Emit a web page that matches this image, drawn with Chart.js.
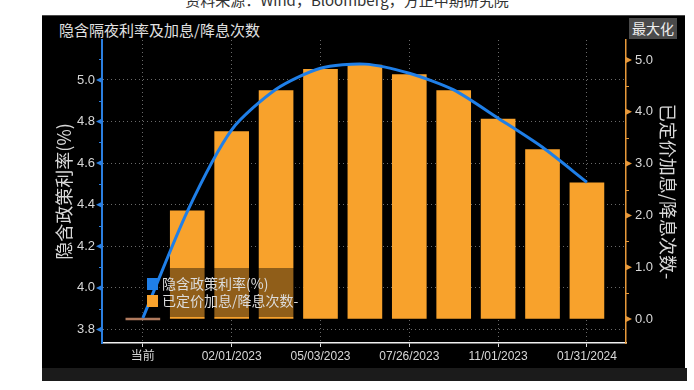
<!DOCTYPE html>
<html><head><meta charset="utf-8">
<script src="https://cdn.jsdelivr.net/npm/chart.js@4"></script>
<style>
html,body{margin:0;padding:0;background:#fff;width:694px;height:390px;overflow:hidden;position:relative;font-family:"Noto Sans CJK SC",sans-serif;}
#src{position:absolute;left:0;width:694px;text-align:center;top:-11px;font-size:15px;line-height:22px;color:#333;white-space:nowrap;}
#panel{position:absolute;left:42px;top:15px;width:643px;height:366px;background:#000;border-top:1px solid #4a4a4a;box-sizing:border-box;}
#strip{position:absolute;left:42px;top:368px;width:645px;height:13px;background:#1b1b1b;}
#title{position:absolute;left:59px;top:20px;font-size:15px;line-height:20px;color:#e2e2e2;white-space:nowrap;}
#maxbtn{position:absolute;left:629px;top:18px;width:48px;height:21px;background:#4a4a4a;color:#eee;font-size:14px;text-align:center;line-height:21px;}
canvas{position:absolute;left:0;top:0;}
</style></head>
<body>
<div id="src">资料来源：Wind，Bloomberg，方正中期研究院</div>
<div id="panel"></div>
<div id="strip"></div>
<div id="title">隐含隔夜利率及加息/降息次数</div>
<div id="maxbtn">最大化</div>
<canvas id="c" width="694" height="390"></canvas>
<script>
const categories = ['当前','12/14/2022','02/01/2023','03/22/2023','05/03/2023','06/14/2023','07/26/2023','09/20/2023','11/01/2023','12/13/2023','01/31/2024'];
const impliedRate = [3.855,4.367,4.76,4.955,5.056,5.076,5.032,4.952,4.816,4.676,4.508];
const pricedMoves = [0,2.09,3.62,4.41,4.82,4.90,4.72,4.41,3.86,3.27,2.63];
const leftTicks = [3.8,4.0,4.2,4.4,4.6,4.8,5.0];
const rightTicks = [0,1,2,3,4,5];
const xTickIndices = [0,2,4,6,8,10];
const seriesNames = ['隐含政策利率(%)','已定价加息/降息次数-'];

const BLUE = '#1f7fe8', ORANGE = '#f8a22c', AXBLUE = '#2b7fe0', AXORANGE = '#e8993a';
const TXT = '#d8d8d8', GRID = '#6a6a6a';
const numFont = '"Liberation Sans", "Noto Sans CJK SC", sans-serif';
const cjkFont = '"Noto Sans CJK SC", sans-serif';

const legendPlugin = {
  id: 'overlayLegend',
  afterDatasetDraw(chart, args) {
    if (args.index !== 1) return;
    const c = chart.ctx;
    c.save();
    c.fillStyle = 'rgba(0,0,0,0.42)';
    c.fillRect(140, 268, 163, 49);
    c.restore();
  },
  afterDatasetsDraw(chart) {
    const c = chart.ctx;
    c.save();
    const colors = [BLUE, ORANGE];
    c.font = '14px ' + cjkFont;
    c.textBaseline = 'middle';
    c.textAlign = 'left';
    seriesNames.forEach((n, i) => {
      const cy = 284 + i * 17;
      c.fillStyle = colors[i];
      c.fillRect(147, cy - 6, 11, 12);
      c.fillStyle = '#dcdcdc';
      c.fillText(n, 162, cy);
    });
    c.restore();
  }
};

const decoPlugin = {
  id: 'deco',
  afterDraw(chart) {
    const c = chart.ctx, L = chart.scales.yL, R = chart.scales.yR;
    c.save();
    c.fillStyle = AXBLUE; c.strokeStyle = AXBLUE; c.lineWidth = 1;
    leftTicks.forEach(v => {
      const y = L.getPixelForValue(v);
      c.beginPath(); c.moveTo(L.right, y - 3); c.lineTo(L.right, y + 3); c.lineTo(L.right - 6, y); c.closePath(); c.fill();
    });
    for (let k = 37; k <= 52; k++) {
      const v = k / 10;
      if (leftTicks.some(t => Math.abs(t - v) < 1e-6)) continue;
      const y = Math.round(L.getPixelForValue(v)) + 0.5;
      if (y < L.top || y > L.bottom) continue;
      c.beginPath(); c.moveTo(L.right - 3, y); c.lineTo(L.right, y); c.stroke();
    }
    c.fillStyle = AXORANGE; c.strokeStyle = AXORANGE;
    rightTicks.forEach(v => {
      const y = R.getPixelForValue(v);
      c.beginPath(); c.moveTo(R.left, y - 3); c.lineTo(R.left, y + 3); c.lineTo(R.left + 6, y); c.closePath(); c.fill();
    });
    for (let k = -1; k <= 11; k++) {
      const v = k / 2;
      if (rightTicks.some(t => Math.abs(t - v) < 1e-6)) continue;
      const y = Math.round(R.getPixelForValue(v)) + 0.5;
      if (y < R.top || y > R.bottom) continue;
      c.beginPath(); c.moveTo(R.left, y); c.lineTo(R.left + 3, y); c.stroke();
    }
    c.restore();
  }
};

new Chart(document.getElementById('c'), {
  type: 'bar',
  data: {
    datasets: [
      {
        type: 'line', label: seriesNames[0], yAxisID: 'yL', order: 0,
        data: impliedRate.map((v, i) => ({x: i, y: v})),
        borderColor: BLUE, borderWidth: 3, pointRadius: 0, tension: 0.25, fill: false
      },
      {
        type: 'bar', label: seriesNames[1], yAxisID: 'yR', order: 1,
        data: pricedMoves.map((v, i) => ({x: i, y: v})),
        backgroundColor: pricedMoves.map((v, i) => i === 0 ? '#b07a5e' : ORANGE),
        barThickness: 34, minBarLength: 2, borderWidth: 0
      }
    ]
  },
  options: {
    responsive: false, animation: false,
    layout: {padding: {left: 42, right: 10, top: 40, bottom: 22}},
    plugins: {legend: {display: false}, tooltip: {enabled: false}},
    scales: {
      x: {
        type: 'linear', min: -0.92, max: 10.88, offset: false,
        afterBuildTicks: s => { s.ticks = xTickIndices.map(v => ({value: v})); },
        afterFit: s => { s.height = 25; },
        ticks: {callback: v => categories[v], color: TXT, font: {size: 12, family: numFont}, padding: 2, maxRotation: 0, autoSkip: false},
        grid: {color: GRID, lineWidth: 1, offset: false, drawTicks: true, tickLength: 4, tickColor: '#e0e0e0', tickWidth: 1},
        border: {color: '#f0f0f0', width: 1.5, dash: [1, 3]}
      },
      yL: {
        type: 'linear', position: 'left', min: 3.735, max: 5.192,
        afterBuildTicks: s => { s.ticks = leftTicks.map(v => ({value: v})); },
        afterFit: s => { s.width = 60; },
        ticks: {callback: v => v.toFixed(1), color: TXT, font: {size: 13, family: numFont}, padding: 7},
        grid: {color: GRID, lineWidth: 1, drawTicks: false},
        border: {color: AXBLUE, width: 2, dash: [1, 3]},
        title: {display: true, text: seriesNames[0], color: TXT, font: {size: 18, family: cjkFont}, padding: {top: 11, bottom: 0}}
      },
      yR: {
        type: 'linear', position: 'right', min: -0.463, max: 5.386,
        afterBuildTicks: s => { s.ticks = rightTicks.map(v => ({value: v})); },
        afterFit: s => { s.width = 58; },
        ticks: {callback: v => v.toFixed(1), color: TXT, font: {size: 13, family: numFont}, padding: 9},
        grid: {drawOnChartArea: false, drawTicks: false},
        border: {color: AXORANGE, width: 1.5},
        title: {display: true, text: seriesNames[1], color: TXT, font: {size: 18, family: cjkFont}, padding: {top: 5, bottom: 0}}
      }
    }
  },
  plugins: [legendPlugin, decoPlugin]
});
</script>
</body></html>
